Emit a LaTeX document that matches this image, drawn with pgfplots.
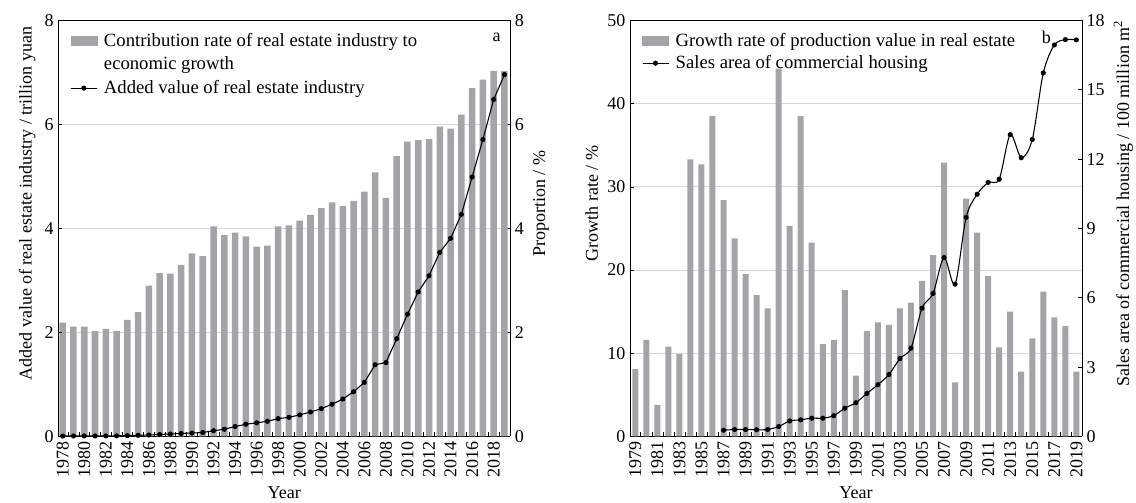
\documentclass[border=0pt]{standalone}
\usepackage{pgfplots}
\usepackage{pgfplotstable}
\pgfplotsset{compat=1.18}
\usepackage{fontspec}
\setmainfont{Liberation Serif}

\definecolor{bargray}{RGB}{163,164,168}
\definecolor{gridgray}{RGB}{214,214,214}

% Contribution rate (%) and added value (trillion yuan) of the real estate industry
\pgfplotstableread{
year share value
1978 2.19 0.008
1979 2.11 0.009
1980 2.11 0.010
1981 2.03 0.010
1982 2.07 0.011
1983 2.03 0.012
1984 2.24 0.016
1985 2.39 0.022
1986 2.90 0.028
1987 3.14 0.038
1988 3.13 0.047
1989 3.30 0.058
1990 3.52 0.066
1991 3.47 0.076
1992 4.04 0.110
1993 3.87 0.138
1994 3.92 0.191
1995 3.85 0.235
1996 3.65 0.262
1997 3.67 0.292
1998 4.04 0.343
1999 4.06 0.368
2000 4.15 0.415
2001 4.26 0.470
2002 4.39 0.535
2003 4.50 0.620
2004 4.43 0.720
2005 4.53 0.860
2006 4.71 1.040
2007 5.08 1.380
2008 4.59 1.420
2009 5.39 1.880
2010 5.67 2.350
2011 5.70 2.780
2012 5.72 3.090
2013 5.96 3.540
2014 5.92 3.810
2015 6.19 4.270
2016 6.70 4.990
2017 6.86 5.710
2018 7.03 6.480
2019 7.03 6.960
}\estatedata

% Growth rate of production value (%)
\pgfplotstableread{
year growth
1979 8.1
1980 11.6
1981 3.8
1982 10.8
1983 9.9
1984 33.3
1985 32.7
1986 38.5
1987 28.4
1988 23.8
1989 19.5
1990 17.0
1991 15.4
1992 44.2
1993 25.3
1994 38.5
1995 23.3
1996 11.1
1997 11.6
1998 17.6
1999 7.3
2000 12.7
2001 13.7
2002 13.4
2003 15.4
2004 16.1
2005 18.7
2006 21.8
2007 32.9
2008 6.5
2009 28.6
2010 24.5
2011 19.3
2012 10.7
2013 15.0
2014 7.8
2015 11.8
2016 17.4
2017 14.3
2018 13.3
2019 7.8
}\growthdata

% Sales area of commercial housing (100 million m2)
\pgfplotstableread{
year area
1987 0.27
1988 0.30
1989 0.30
1990 0.29
1991 0.30
1992 0.43
1993 0.67
1994 0.72
1995 0.79
1996 0.79
1997 0.90
1998 1.22
1999 1.46
2000 1.86
2001 2.24
2002 2.68
2003 3.37
2004 3.82
2005 5.55
2006 6.19
2007 7.74
2008 6.59
2009 9.48
2010 10.48
2011 10.99
2012 11.13
2013 13.06
2014 12.06
2015 12.85
2016 15.73
2017 16.94
2018 17.17
2019 17.16
}\areadata

\pgfplotsset{
  base/.style={
    scale only axis,
    width=339pt, height=312pt,
    font=\fontsize{13.5}{15}\selectfont,
    /pgf/number format/assume math mode=true,
    tick label style={font=\fontsize{13.5}{15}\selectfont},
    label style={font=\fontsize{13.5}{15}\selectfont},
    every axis y label/.append style={at={(ticklabel cs:0.56)}},
    tick align=inside,
    major tick length=3pt,
    minor tick length=3pt,
    ymin=0,
    axis line style={line width=0.7pt},
    every tick/.append style={black, line width=0.5pt},
  },
  barpanel/.style={
    base,
    ymajorgrids,
    grid style={gridgray, line width=0.6pt},
    xtick pos=bottom,
    xticklabel style={rotate=90, anchor=east, /pgf/number format/1000 sep={}},
    every major x tick/.append style={draw=none},
    xlabel={Year},
  },
  linepanel/.style={
    base,
    hide x axis,
  },
  barstyle/.style={ybar, fill=bargray, draw=none},
  linestyle/.style={black, line width=0.8pt, mark=*, mark size=1.5pt},
  barkey/.style={legend image code/.code={\fill[bargray] (0pt,-3.4pt) rectangle (19.5pt,3.4pt);}},
  linekey/.style={legend image code/.code={\draw[black,line width=0.8pt] (0pt,0pt) -- (19.5pt,0pt);
      \fill[black] (9.75pt,0pt) circle (1.5pt);}},
  keybox/.style={legend style={draw=none, fill=none, anchor=north west,
      font=\fontsize{14}{16}\selectfont, inner sep=2pt,
      /tikz/every odd column/.append style={column sep=3pt}},
      legend cell align=left},
}

\begin{document}
\begin{tikzpicture}
\path[use as bounding box] (0,0) rectangle (852pt,377.25pt);

% ---------- panel a ----------
\begin{axis}[barpanel,
  at={(43.7pt,49.9pt)}, anchor=south west,
  axis y line*=right,
  xmin=1977.59, xmax=2019.54,
  ymax=8, ytick={0,2,4,6,8},
  xtick={1978,1980,...,2018},
  minor xtick={1978.5,1979.5,...,2018.5},
  ylabel={Proportion / \%},
]
\addplot[barstyle, bar width=4.9pt] table[x=year, y=share] {\estatedata};
\end{axis}

\begin{axis}[linepanel, keybox,
  at={(43.7pt,49.9pt)}, anchor=south west,
  axis y line*=left,
  xmin=1977.59, xmax=2019.54,
  ymax=8, ytick={0,2,4,6,8},
  ylabel={Added value of real estate industry / trillion yuan},
  legend style={at={(rel axis cs:0.02,0.983)}, row sep=2.5pt},
]
\addlegendimage{barkey}
\addlegendentry{Contribution rate of real estate industry to}
\addlegendimage{empty legend}
\addlegendentry{economic growth}
\addplot[linestyle, linekey] table[x=year, y=value] {\estatedata};
\addlegendentry{Added value of real estate industry}
\node at (rel axis cs:0.97,0.96) {a};
\end{axis}

% ---------- panel b ----------
\begin{axis}[barpanel,
  at={(472.5pt,49.9pt)}, anchor=south west,
  axis y line*=left,
  xmin=1978.52, xmax=2019.51,
  ymax=50, ytick={0,10,...,50},
  xtick={1979,1981,...,2019},
  minor xtick={1979.5,1980.5,...,2018.5},
  ylabel={Growth rate / \%},
]
\addplot[barstyle, bar width=4.5pt] table[x=year, y=growth] {\growthdata};
\end{axis}

\begin{axis}[linepanel, keybox,
  at={(472.5pt,49.9pt)}, anchor=south west,
  axis y line*=right,
  xmin=1978.52, xmax=2019.51,
  ymax=18, ytick={0,3,...,18},
  ylabel={Sales area of commercial housing / 100 million m\textsuperscript{2}},
  legend style={at={(rel axis cs:0.02,0.983)}, row sep=1.5pt},
]
\addlegendimage{barkey}
\addlegendentry{Growth rate of production value in real estate}
\addplot[linestyle, linekey, smooth] table[x=year, y=area] {\areadata};
\addlegendentry{Sales area of commercial housing}
\node at (rel axis cs:0.921,0.96) {b};
\end{axis}
\end{tikzpicture}
\end{document}
